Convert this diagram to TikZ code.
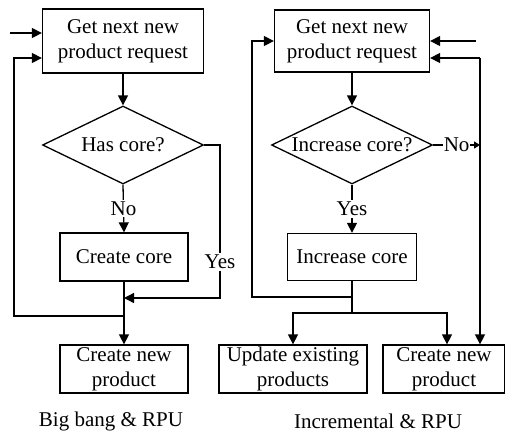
\documentclass[tikz,border=0pt]{standalone}
\usepackage{fontspec}
\setmainfont{Liberation Serif}
\usetikzlibrary{shapes.geometric,arrows.meta}

\tikzset{
    box/.style={draw, line width=1.3pt, align=center, inner sep=1pt},
    decision/.style={draw, diamond, line width=1.3pt, inner sep=0pt,
        minimum width=161pt, minimum height=78pt},
    lab/.style={fill=white, inner sep=2pt},
    link/.style={line width=1.3pt},
    flow/.style={line width=1.3pt, -{Triangle[length=10pt,width=10pt]}},
    smallflow/.style={line width=1.3pt, -{Triangle[length=6pt,width=7pt]}},
}

\begin{document}
\begin{tikzpicture}[x=1pt, y=-1pt, font=\fontsize{21}{25}\selectfont]
    \useasboundingbox (0,0) rectangle (505,442);

    % big bang
    \node[box, minimum width=161pt, minimum height=64pt] (get1) at (123,41) {Get next new\\product request};
    \node[decision, label={center:Has core?}] (has) at (123,145) {};
    \node[box, minimum width=128pt, minimum height=48pt] (core1) at (124,257) {Create core};
    \node[box, minimum width=128pt, minimum height=48pt] (new1) at (124,369) {Create new\\product};
    \node (cap1) at (111,421) {Big bang \& RPU};

    \coordinate (in1) at (10,33);
    \coordinate (yes1) at (220,145);
    \coordinate (join1) at (124,298);
    \coordinate (split1) at (124,316);
    \coordinate (loop1) at (14,316);

    \draw[flow] (in1) -- ([yshift=8pt]get1.west);
    \draw[flow] (get1) -- (has);
    \draw[flow] (has.south) -- node[lab] (no1) {No} (core1.north);
    \draw[flow] (has.east) -- (yes1) -- node[lab, pos=0.765] (yeslab1) {Yes} (yes1 |- join1) -- (join1);
    \draw[link] (core1.south) -- (split1);
    \draw[flow] (split1) -- (new1.north);
    \draw[flow] (split1) -- (loop1) |- ([yshift=-17pt]get1.west);

    % incremental
    \node[box, minimum width=155pt, minimum height=62pt] (get2) at (352,41) {Get next new\\product request};
    \node[decision, label={center:Increase core?}] (inc) at (352,145) {};
    \node[box, minimum width=129pt, minimum height=47pt] (core2) at (352,257) {Increase core};
    \node[box, minimum width=148pt, minimum height=48pt] (upd) at (293,369) {Update existing\\products};
    \node[box, minimum width=122pt, minimum height=48pt] (new2) at (444,369) {Create new\\product};
    \node (cap2) at (378,421) {Incremental \& RPU};

    \coordinate (in2) at (476,41);
    \coordinate (loop2) at (352,297);
    \coordinate (split2) at (352,313);
    \coordinate (back2) at (480,58);
    \coordinate (side2) at (480,145);

    \draw[flow] (in2) -- (get2.east |- in2);
    \draw[flow] (get2) -- (inc);
    \draw[flow] (inc.south) -- node[lab] (yes2) {Yes} (core2.north);
    \draw[link] (core2.south) -- (split2);
    \draw[flow] (loop2) -- (252,297) |- (get2.west);
    \draw[flow] (split2) -| (upd.north);
    \draw[flow] (split2) -| ([xshift=3pt]new2.north);
    \draw[smallflow] (inc.east) -- node[lab, inner sep=1pt] (no2) {No} (side2);
    \draw[flow] (back2) -- (get2.east |- back2);
    \draw[flow] (back2) -- (back2 |- new2.north);
\end{tikzpicture}
\end{document}
